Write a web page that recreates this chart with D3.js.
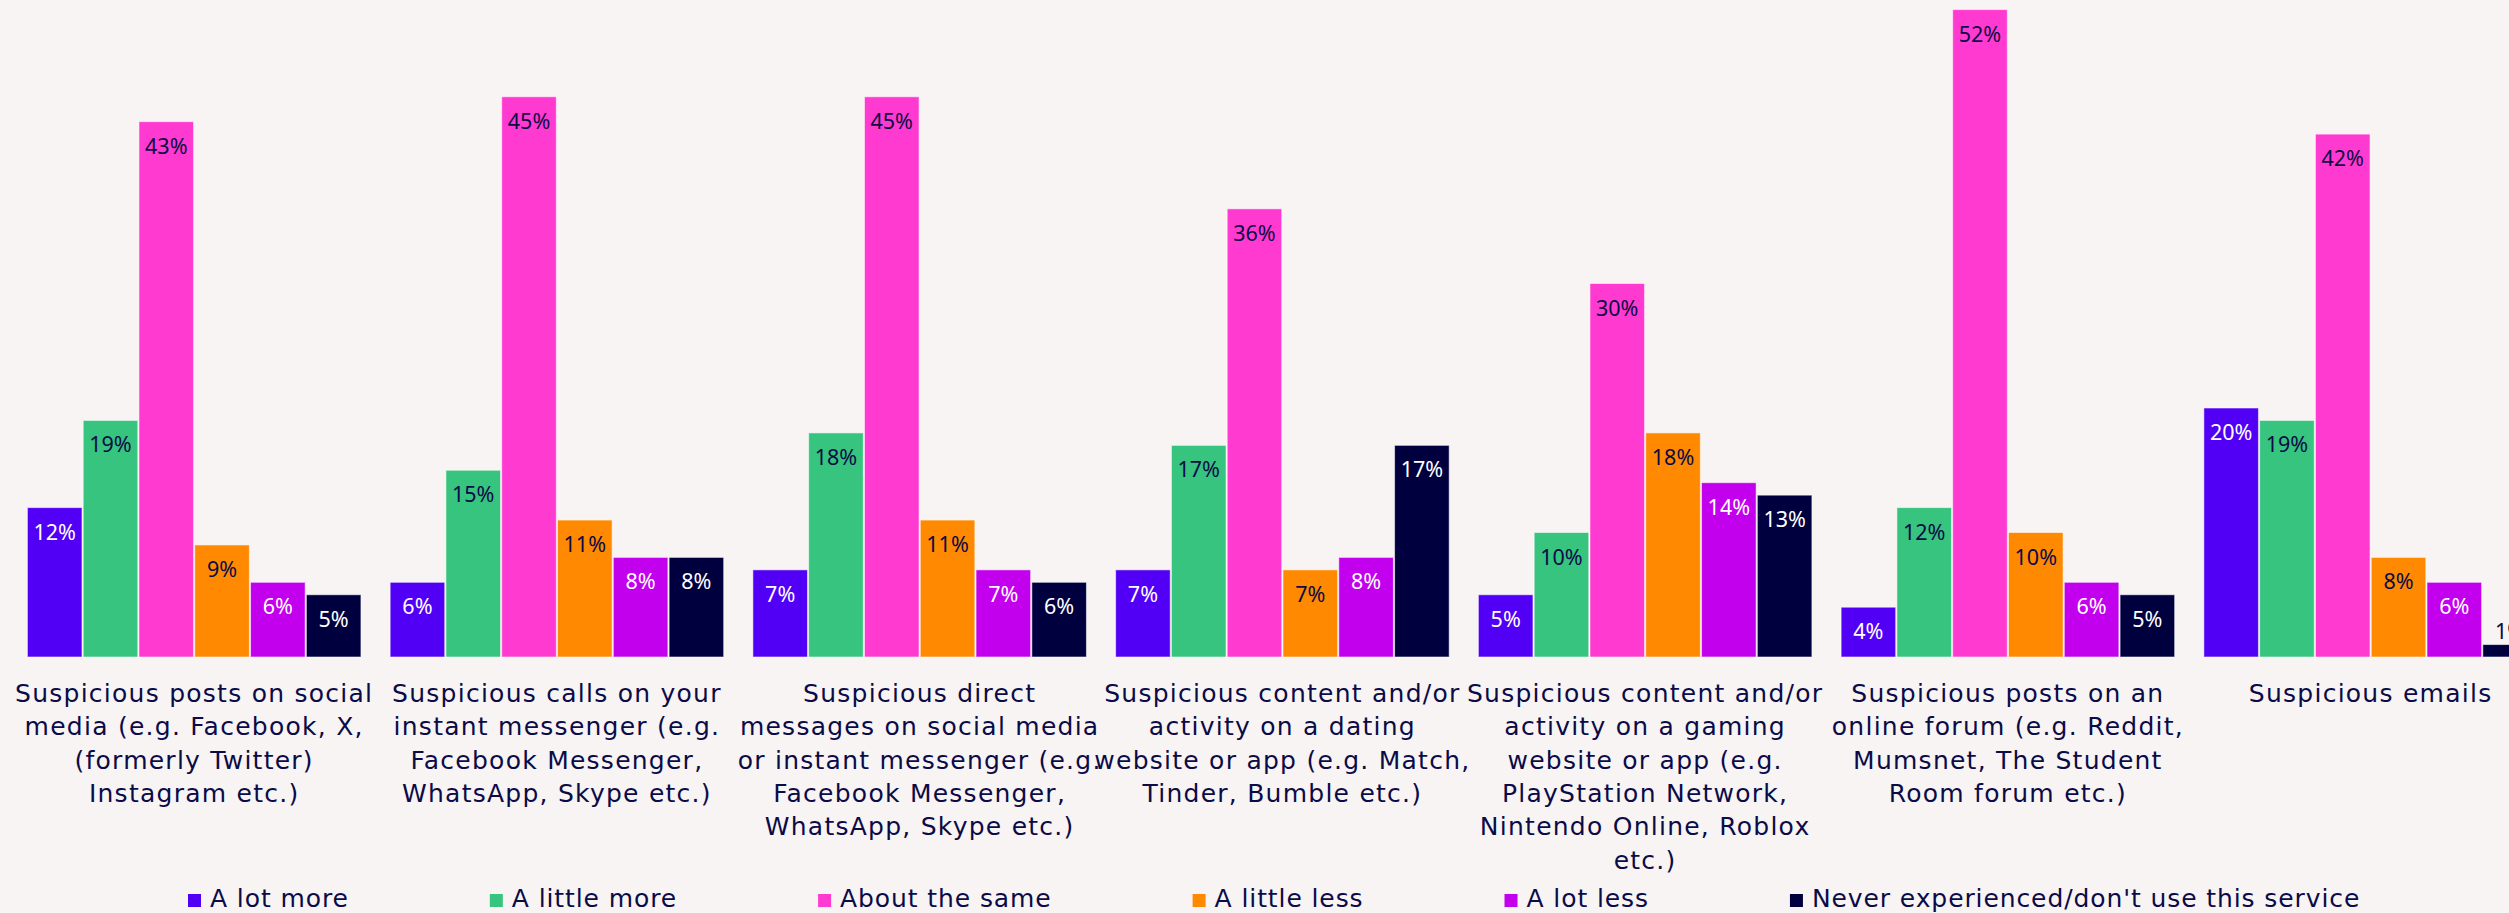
<!DOCTYPE html>
<html>
<head>
<meta charset="utf-8">
<script src="https://cdn.jsdelivr.net/npm/d3@7"></script>
<style>
  html, body { margin: 0; padding: 0; background: #f8f4f3; overflow: hidden; }
  svg { display: block; }
</style>
</head>
<body>
<svg id="chart" width="2509" height="913"></svg>
<script>
// Survey categories (line breaks mark how each axis label wraps)
const categories = [
  "Suspicious posts on social\nmedia (e.g. Facebook, X,\n(formerly Twitter)\nInstagram etc.)",
  "Suspicious calls on your\ninstant messenger (e.g.\nFacebook Messenger,\nWhatsApp, Skype etc.)",
  "Suspicious direct\nmessages on social media\nor instant messenger (e.g.\nFacebook Messenger,\nWhatsApp, Skype etc.)",
  "Suspicious content and/or\nactivity on a dating\nwebsite or app (e.g. Match,\nTinder, Bumble etc.)",
  "Suspicious content and/or\nactivity on a gaming\nwebsite or app (e.g.\nPlayStation Network,\nNintendo Online, Roblox\netc.)",
  "Suspicious posts on an\nonline forum (e.g. Reddit,\nMumsnet, The Student\nRoom forum etc.)",
  "Suspicious emails"
];

const seriesNames = [
  "A lot more",
  "A little more",
  "About the same",
  "A little less",
  "A lot less",
  "Never experienced/don't use this service"
];

// Percentages per series, one value per category
const aLotMore      = [12, 6, 7, 7, 5, 4, 20];
const aLittleMore   = [19, 15, 18, 17, 10, 12, 19];
const aboutTheSame  = [43, 45, 45, 36, 30, 52, 42];
const aLittleLess   = [9, 11, 11, 7, 18, 10, 8];
const aLotLess      = [6, 8, 7, 8, 14, 6, 6];
const neverUsed     = [5, 8, 6, 17, 13, 5, 1];

const seriesValues = [aLotMore, aLittleMore, aboutTheSame, aLittleLess, aLotLess, neverUsed];

const colors     = ["#5200f5", "#36c47e", "#ff3ad0", "#ff8900", "#c200ed", "#00003f"];
const labelInk   = ["#ffffff", "#0b0b48", "#0b0b48", "#0b0b48", "#ffffff", "#ffffff"];
const textColor  = "#0b0b48";

const svg = d3.select("#chart");

// Layout
const baseline = 657;
const x0 = d3.scaleBand().domain(d3.range(categories.length)).range([12.8, 2552]);
const x1 = d3.scaleBand().domain(d3.range(seriesNames.length)).range([14, x0.bandwidth() - 14]);
const y  = d3.scaleLinear().domain([0, 50]).range([baseline, baseline - 50 * 12.45]);

const rows = [];
categories.forEach((c, ci) => {
  seriesValues.forEach((vals, si) => rows.push({ ci, si, v: vals[ci] }));
});

const groups = svg.append("g");

groups.selectAll("rect.bar")
  .data(rows)
  .join("rect")
  .attr("class", "bar")
  .attr("x", d => x0(d.ci) + x1(d.si) + 0.6)
  .attr("y", d => y(d.v))
  .attr("width", x1.bandwidth() - 1.2)
  .attr("height", d => baseline - y(d.v))
  .attr("fill", d => colors[d.si])
  .attr("stroke", "#ffffff")
  .attr("stroke-opacity", 0.55)
  .attr("stroke-width", 1);

// Value labels: inside the bar near its top, or above it when the bar is short
groups.selectAll("text.val")
  .data(rows)
  .join("text")
  .attr("class", "val")
  .attr("x", d => x0(d.ci) + x1(d.si) + x1.bandwidth() / 2)
  .attr("y", d => (baseline - y(d.v)) > 40 ? y(d.v) + 32 : y(d.v) - 6)
  .attr("text-anchor", "middle")
  .attr("font-family", "'Noto Sans', sans-serif")
  .attr("font-size", 21.5)
  .attr("fill", d => (baseline - y(d.v)) > 40 ? labelInk[d.si] : textColor)
  .text(d => d.v + "%");

// Category labels under each group
const catLabels = svg.append("g")
  .selectAll("text")
  .data(categories)
  .join("text")
  .attr("x", (d, i) => x0(i) + x0.bandwidth() / 2)
  .attr("y", 702)
  .attr("text-anchor", "middle")
  .attr("font-family", "'DejaVu Sans', sans-serif")
  .attr("font-size", 25)
  .attr("letter-spacing", 1.25)
  .attr("fill", textColor);

catLabels.selectAll("tspan")
  .data(d => d.split("\n"))
  .join("tspan")
  .attr("x", function () { return d3.select(this.parentNode).attr("x"); })
  .attr("dy", (d, i) => i === 0 ? 0 : 33.3)
  .text(d => d);

// Legend: items flow left to right, each swatch followed by its name
const legend = svg.append("g");
const swatch = 13, swatchGap = 9, itemGap = 141;
let cursor = 188;
seriesNames.forEach((name, i) => {
  const item = legend.append("g").attr("transform", `translate(${cursor},0)`);
  item.append("rect")
    .attr("x", 0)
    .attr("y", 894)
    .attr("width", swatch)
    .attr("height", swatch)
    .attr("fill", colors[i]);
  const label = item.append("text")
    .attr("x", swatch + swatchGap)
    .attr("y", 907)
    .attr("font-family", "'DejaVu Sans', sans-serif")
    .attr("font-size", 25)
    .attr("letter-spacing", 0.9)
    .attr("fill", textColor)
    .text(name);
  cursor += swatch + swatchGap + label.node().getComputedTextLength() + itemGap;
});
</script>
</body>
</html>
